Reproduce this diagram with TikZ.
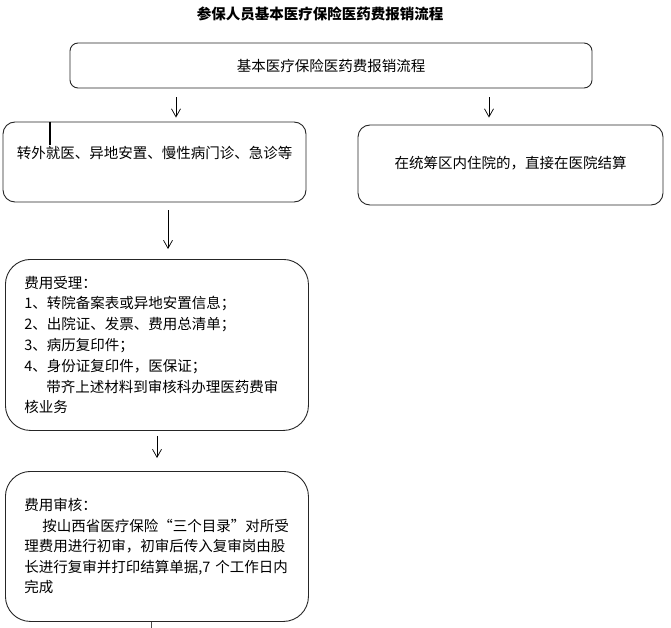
\documentclass[tikz,border=0pt]{standalone}
\usepackage{fontspec}
\setmainfont{Noto Sans CJK SC}
\usetikzlibrary{arrows.meta, positioning}
\tikzset{
  topbox/.style={rectangle, draw=black!85, rounded corners=8pt, line width=0.9pt,
                 minimum width=522pt, minimum height=45pt, align=center},
  casebox/.style={rectangle, draw=black!85, rounded corners=12pt, line width=0.9pt,
                  minimum height=80pt, align=center, text height=11pt, text depth=3pt},
  stepbox/.style={rectangle, draw=black!85, rounded corners=25pt, line width=0.9pt,
                  text width=265pt, inner xsep=19pt, align=left, anchor=north west},
  arrow/.style={-{Straight Barb[length=8pt,width=9pt]}, draw=black, line width=0.7pt},
}

\begin{document}
\begin{tikzpicture}[
  x=1pt, y=-1pt,
  every node/.style={font=\fontsize{14.5pt}{20.8pt}\selectfont},
]
  \useasboundingbox (0,0) rectangle (671,628);
  \node[font=\fontsize{14.5pt}{17pt}\selectfont\bfseries] (title) at (320,14)
    {参保人员基本医疗保险医药费报销流程};
  \node[topbox] (flow) at (331,65.5) {基本医疗保险医药费报销流程};

  \node[casebox, minimum width=303pt, text depth=18pt] (outside) at (154.5,162)
    {转外就医、异地安置、慢性病门诊、急诊等};
  \node[casebox, minimum width=305pt] (inside) at (510.5,165)
    {在统筹区内住院的，直接在医院结算};

  \node[stepbox, minimum height=171pt] (accept) at (5,259)
    {费用受理：\\
     1、转院备案表或异地安置信息；\\
     2、出院证、发票、费用总清单；\\
     3、病历复印件；\\
     4、身份证复印件，医保证；\\
     \hspace*{22pt}带齐上述材料到审核科办理医药费审\\
     核业务};
  \node[stepbox, minimum height=150pt, font=\fontsize{14.5pt}{20.5pt}\selectfont] (review) at (5,471)
    {费用审核：\\
     \hspace*{18pt}按山西省医疗保险“三个目录”对所受\\
     理费用进行初审，初审后传入复审岗由股\\
     长进行复审并打印结算单据,7 个工作日内\\
     完成};

  \coordinate (colA) at (176,0);
  \coordinate (colB) at (489,0);
  \coordinate (colC) at (168,0);
  \coordinate (colD) at (157,0);
  \coordinate (colE) at (151,0);
  \coordinate (mark) at (50,0);

  \draw[arrow, shorten <=9pt, shorten >=4pt] (flow.south -| colA) -- (outside.north -| colA);
  \draw[arrow, shorten <=9pt, shorten >=7pt] (flow.south -| colB) -- (inside.north -| colB);
  \draw[arrow, shorten <=8pt, shorten >=10pt] (outside.south -| colC) -- (accept.north -| colC);
  \draw[arrow, shorten <=5pt, shorten >=13pt] (accept.south -| colD) -- (review.north -| colD);
  \draw[line width=2pt] (outside.north -| mark) -- ++(0,23);
  \draw[line width=0.9pt, draw=black!70] (review.south -| colE) -- ++(0,7);
\end{tikzpicture}
\end{document}
